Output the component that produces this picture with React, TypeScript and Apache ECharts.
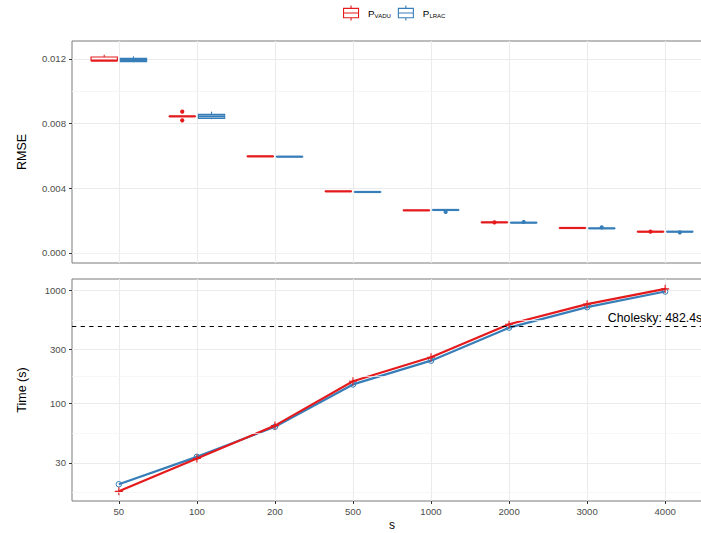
import { useEffect, useRef } from 'react';
import * as echarts from 'echarts';

// Sample sizes (discrete x positions 1..8)
const sizes = ['50', '100', '200', '500', '1000', '2000', '3000', '4000'];

// RMSE box statistics per size: [lower whisker, q1, median, q3, upper whisker]
const rmseVadu = [
  [0.011895, 0.011895, 0.0119, 0.012124, 0.012266],
  [0.00844, 0.008444, 0.008449, 0.008454, 0.008458],
  [0.005966, 0.00597, 0.005975, 0.00598, 0.005984],
  [0.003801, 0.003805, 0.00381, 0.003815, 0.003819],
  [0.002626, 0.00263, 0.002635, 0.00264, 0.002644],
  [0.001884, 0.001888, 0.001893, 0.001898, 0.001902],
  [0.001537, 0.001541, 0.001546, 0.001551, 0.001555],
  [0.001308, 0.001312, 0.001317, 0.001322, 0.001326],
];
const rmseLrac = [
  [0.0118, 0.011833, 0.011938, 0.012037, 0.012161],
  [0.008276, 0.008326, 0.008449, 0.008573, 0.00874],
  [0.005948, 0.005952, 0.005957, 0.005962, 0.005966],
  [0.003764, 0.003768, 0.003773, 0.003778, 0.003782],
  [0.002651, 0.002655, 0.00266, 0.002665, 0.002669],
  [0.001865, 0.001869, 0.001874, 0.001879, 0.001883],
  [0.001513, 0.001517, 0.001522, 0.001527, 0.001531],
  [0.001308, 0.001312, 0.001317, 0.001322, 0.001326],
];
// Outlying RMSE values: [size, value]
const rmseVaduOutliers: [string, number][] = [
  ['100', 0.00874],
  ['100', 0.008202],
  ['2000', 0.001893],
  ['4000', 0.001317],
];
const rmseLracOutliers: [string, number][] = [
  ['1000', 0.002536],
  ['2000', 0.001917],
  ['3000', 0.001583],
  ['4000', 0.001274],
];

// Computation time in seconds
const timeVadu = [16.8, 32.8, 64.0, 158, 257, 504, 758, 1035];
const timeLrac = [19.4, 33.9, 62.5, 148, 240, 470, 713, 980];
const choleskyTime = 482.4;
const choleskyLabelAt = 7.87;

// Axis breaks
const rmseTicks = [0, 0.004, 0.008, 0.012];
const rmseMinorTicks = [0.002, 0.006, 0.01];
const timeTicks = [30, 100, 300, 1000];
const timeMinorTicks = [16.4, 54.8, 173.2, 547.7];

const RED = '#E41A1C';
const BLUE = '#377EB8';
const FONT = '"Liberation Sans", Arial, Helvetica, sans-serif';
const GRID_MAJOR = '#EBEBEB';
const GRID_MINOR = '#F4F4F4';
const BORDER = '#7A7A7A';
const TICK_TEXT = '#4D4D4D';
const BOX_WIDTH = 0.3375;
const DODGE = 0.1875;

const BOX_ICON = 'path://M8,0L8,3M0,3L16,3L16,13L0,13ZM0,8L16,8M8,13L8,16';
const PLUS = 'path://M5,0L5,10M0,5L10,5';
const RING = 'path://M10,5A5,5,0,1,1,0,5A5,5,0,1,1,10,5Z';

const sizeIndex = sizes.map((_, i) => i + 1);

function boxSeries(name: string, color: string, stats: number[][], offset: number) {
  return {
    type: 'custom',
    name,
    xAxisIndex: 0,
    yAxisIndex: 0,
    z: 3,
    data: stats.map((s, i) => [i + 1, ...s]),
    encode: { x: 0, y: [1, 2, 3, 4, 5] },
    renderItem: (_params: any, api: any) => {
      const x = api.value(0) + offset;
      const lo = api.coord([x, api.value(1)]);
      const q1 = api.coord([x, api.value(2)]);
      const md = api.coord([x, api.value(3)]);
      const q3 = api.coord([x, api.value(4)]);
      const hi = api.coord([x, api.value(5)]);
      const half = api.size([BOX_WIDTH, 0])[0] / 2;
      const stroke = { stroke: color, lineWidth: 1.1, fill: null };
      return {
        type: 'group',
        children: [
          { type: 'line', shape: { x1: hi[0], y1: hi[1], x2: q3[0], y2: q3[1] }, style: stroke },
          { type: 'line', shape: { x1: q1[0], y1: q1[1], x2: lo[0], y2: lo[1] }, style: stroke },
          {
            type: 'rect',
            shape: { x: q3[0] - half, y: q3[1], width: half * 2, height: Math.max(q1[1] - q3[1], 0.01) },
            style: { stroke: color, lineWidth: 1.1, fill: '#fff' },
          },
          {
            type: 'line',
            shape: { x1: md[0] - half, y1: md[1], x2: md[0] + half, y2: md[1] },
            style: { stroke: color, lineWidth: 2.2 },
          },
        ],
      };
    },
  };
}

function outlierSeries(name: string, color: string, pts: [string, number][], offset: number) {
  return {
    type: 'custom',
    name,
    xAxisIndex: 0,
    yAxisIndex: 0,
    z: 4,
    data: pts.map(([s, v]) => [sizes.indexOf(s) + 1, v]),
    encode: { x: 0, y: 1 },
    renderItem: (_params: any, api: any) => {
      const p = api.coord([api.value(0) + offset, api.value(1)]);
      return { type: 'circle', shape: { cx: p[0], cy: p[1], r: 2.1 }, style: { fill: color } };
    },
  };
}

function gridLines(values: number[], color: string, width: number, xi: number, yi: number) {
  return {
    type: 'line',
    xAxisIndex: xi,
    yAxisIndex: yi,
    z: 1,
    silent: true,
    data: [],
    markLine: {
      silent: true,
      symbol: 'none',
      label: { show: false },
      lineStyle: { color, width, type: 'solid' },
      data: values.map((v) => ({ yAxis: v })),
    },
  };
}

function xAxis(gridIndex: number, showLabels: boolean) {
  return {
    type: 'value',
    gridIndex,
    min: 0.4,
    max: 8.6,
    axisLine: { show: false },
    axisTick: {
      show: showLabels,
      customValues: sizeIndex,
      length: 3,
      lineStyle: { color: '#333', width: 1 },
    },
    axisLabel: {
      show: showLabels,
      customValues: sizeIndex,
      formatter: (v: number) => sizes[Math.round(v) - 1] ?? '',
      color: TICK_TEXT,
      fontSize: 9.6,
      fontFamily: FONT,
      margin: 5,
    },
    splitLine: { show: true, lineStyle: { color: GRID_MAJOR, width: 1.1 } },
    name: showLabels ? 's' : '',
    nameLocation: 'middle',
    nameGap: 18,
    nameTextStyle: { color: '#000', fontSize: 12, fontFamily: FONT },
  };
}

export default function App() {
  const ref = useRef<HTMLDivElement>(null);

  useEffect(() => {
    document.body.style.margin = '0';
    if (!ref.current) return;
    const chart = echarts.init(ref.current, null, { renderer: 'svg' });

    const panel = {
      left: 72,
      width: 640,
      height: 222,
      show: true,
      borderColor: BORDER,
      borderWidth: 1,
      backgroundColor: 'transparent',
      containLabel: false,
      outerBoundsMode: 'none',
    };

    const option: any = {
      animation: false,
      backgroundColor: '#fff',
      textStyle: { fontFamily: FONT },
      legend: {
        top: 0,
        left: 338,
        itemWidth: 16,
        itemHeight: 15,
        itemGap: 7,
        selectedMode: false,
        data: [
          { name: 'VADU', icon: BOX_ICON, itemStyle: { color: '#fff', borderColor: RED, borderWidth: 1.1 } },
          { name: 'LRAC', icon: BOX_ICON, itemStyle: { color: '#fff', borderColor: BLUE, borderWidth: 1.1 } },
        ],
        formatter: (name: string) => `{p|P}{sub|${name}}`,
        textStyle: {
          fontFamily: FONT,
          rich: {
            p: { fontSize: 9.8, color: '#000', padding: [0, 0, 0, 4], fontFamily: FONT },
            sub: { fontSize: 6, color: '#000', padding: [5, 0, 0, 0], fontFamily: FONT },
          },
        },
      },
      grid: [
        { ...panel, top: 41 },
        { ...panel, top: 279 },
      ],
      xAxis: [xAxis(0, false), xAxis(1, true)],
      yAxis: [
        {
          type: 'value',
          gridIndex: 0,
          min: -0.00062,
          max: 0.01311,
          axisLine: { show: false },
          axisTick: { show: true, customValues: rmseTicks, length: 3, lineStyle: { color: '#333' } },
          axisLabel: {
            customValues: rmseTicks,
            formatter: (v: number) => v.toFixed(3),
            color: TICK_TEXT,
            fontSize: 9.6,
            fontFamily: FONT,
            margin: 6,
          },
          splitLine: { show: true, lineStyle: { color: GRID_MAJOR, width: 1.1 } },
          name: 'RMSE',
          nameLocation: 'middle',
          nameGap: 44,
          nameTextStyle: { color: '#000', fontSize: 12.5, fontFamily: FONT },
        },
        {
          type: 'log',
          logBase: 10,
          gridIndex: 1,
          min: 13.8,
          max: 1265,
          axisLine: { show: false },
          axisTick: { show: true, customValues: timeTicks, length: 3, lineStyle: { color: '#333' } },
          axisLabel: {
            customValues: timeTicks,
            formatter: (v: number) => String(Math.round(v)),
            color: TICK_TEXT,
            fontSize: 9.6,
            fontFamily: FONT,
            margin: 6,
          },
          splitLine: { show: true, lineStyle: { color: GRID_MAJOR, width: 1.1 } },
          name: 'Time (s)',
          nameLocation: 'middle',
          nameGap: 44,
          nameTextStyle: { color: '#000', fontSize: 12.5, fontFamily: FONT },
        },
      ],
      series: [
        gridLines(rmseMinorTicks, GRID_MINOR, 0.7, 0, 0),
        boxSeries('VADU', RED, rmseVadu, -DODGE),
        boxSeries('LRAC', BLUE, rmseLrac, DODGE),
        outlierSeries('VADU', RED, rmseVaduOutliers, -DODGE),
        outlierSeries('LRAC', BLUE, rmseLracOutliers, DODGE),
        gridLines(timeMinorTicks, GRID_MINOR, 0.7, 1, 1),
        {
          type: 'line',
          xAxisIndex: 1,
          yAxisIndex: 1,
          z: 2,
          silent: true,
          data: [],
          markLine: {
            silent: true,
            symbol: 'none',
            label: { show: false },
            lineStyle: { color: '#000', width: 1.1, type: [4.3, 4.3] },
            data: [{ yAxis: choleskyTime }],
          },
          markPoint: {
            silent: true,
            symbol: 'rect',
            symbolSize: 1,
            itemStyle: { color: 'transparent' },
            label: {
              show: true,
              position: 'inside',
              offset: [0, -8],
              formatter: `Cholesky: ${choleskyTime}s`,
              color: '#000',
              fontSize: 12.3,
              fontFamily: FONT,
            },
            data: [{ coord: [choleskyLabelAt, choleskyTime] }],
          },
        },
        {
          type: 'line',
          name: 'LRAC',
          xAxisIndex: 1,
          yAxisIndex: 1,
          z: 3,
          data: timeLrac.map((v, i) => [i + 1, v]),
          lineStyle: { color: BLUE, width: 2.2 },
          symbol: RING,
          symbolSize: 5.5,
          itemStyle: { color: 'rgba(255,255,255,0)', borderColor: BLUE, borderWidth: 1 },
        },
        {
          type: 'line',
          name: 'VADU',
          xAxisIndex: 1,
          yAxisIndex: 1,
          z: 4,
          data: timeVadu.map((v, i) => [i + 1, v]),
          lineStyle: { color: RED, width: 2.2 },
          symbol: PLUS,
          symbolSize: 8,
          itemStyle: { color: RED, borderColor: RED, borderWidth: 1.1 },
        },
      ],
    };

    chart.setOption(option);
    return () => chart.dispose();
  }, []);

  return <div ref={ref} style={{ width: 701, height: 533 }} />;
}
